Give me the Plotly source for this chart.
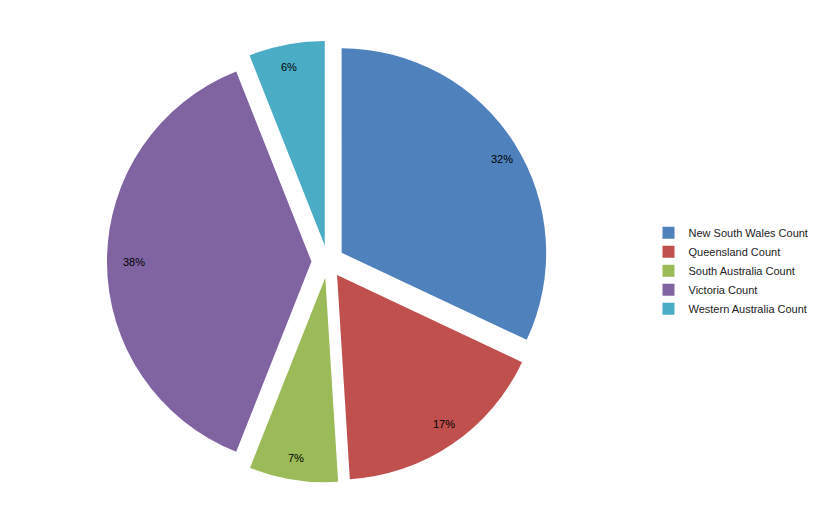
import math
import plotly.graph_objects as go

labels = ["New South Wales Count", "Queensland Count", "South Australia Count",
          "Victoria Count", "Western Australia Count"]
values = [32, 17, 7, 38, 6]
colors = ["#4F81BD", "#C0504D", "#9BBB59", "#8064A2", "#4BACC6"]

W, H = 818, 531
dom_x = [0.121, 0.661]
dom_y = [0.09, 0.955]
pull = 0.08

fig = go.Figure(go.Pie(
    labels=labels, values=values, sort=False, direction="clockwise", rotation=0,
    marker=dict(colors=colors, line=dict(color="white", width=0)),
    pull=[pull] * len(values),
    textinfo="none", hoverinfo="label+percent",
    domain=dict(x=dom_x, y=dom_y),
))

# percent labels placed near the outer edge of each slice, like Excel
cx = (dom_x[0] + dom_x[1]) / 2 * W
cy = (dom_y[0] + dom_y[1]) / 2 * H
r = min((dom_x[1] - dom_x[0]) * W, (dom_y[1] - dom_y[0]) * H) / 2 / (1 + pull)
total = sum(values)
cum = 0
annotations = []
for v in values:
    mid = (cum + v / 2) / total * 2 * math.pi
    cum += v
    d = (pull + 0.93) * r
    px_ = cx + d * math.sin(mid)
    py_ = cy + d * math.cos(mid)
    annotations.append(dict(x=px_ / W, y=py_ / H, xref="paper", yref="paper",
                            text=f"{round(v / total * 100)}%", showarrow=False,
                            font=dict(family="Liberation Sans", size=11, color="black")))

fig.update_layout(
    width=W, height=H, paper_bgcolor="white",
    margin=dict(l=0, r=0, t=0, b=0),
    font=dict(family="Liberation Sans", size=11, color="#222"),
    legend=dict(x=0.783, y=0.505, yanchor="middle", xanchor="left",
                font=dict(size=11), tracegroupgap=0, itemwidth=30),
    annotations=annotations,
    shapes=[dict(type="line", xref="paper", yref="paper", x0=0, x1=1, y0=0.004, y1=0.004,
                 line=dict(color="#BFBFBF", width=1))],
)

fig.write_html("out.html")
